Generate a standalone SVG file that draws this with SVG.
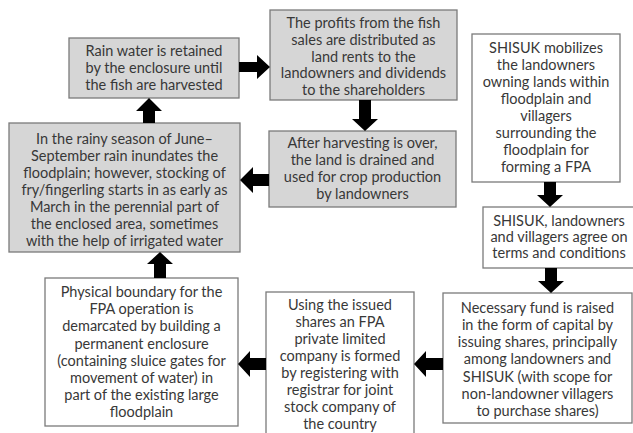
<svg xmlns="http://www.w3.org/2000/svg" width="633" height="433" viewBox="0 0 633 433">
<style>
.box{stroke:#7a7a7a;stroke-width:1.3}
.g{fill:#d6d6d6}
.w{fill:#ffffff}
text{font-family:Lato,"Open Sans","Liberation Sans",sans-serif;font-size:14.5px;fill:#383838;text-anchor:middle}
.arrow{fill:#000000}
</style>
<rect width="633" height="433" fill="#ffffff"/>
<g id="nodeA">
<rect class="box g" x="69" y="38" width="170" height="60"/>
<text x="154" y="56">Rain water is retained</text>
<text x="154" y="73">by the enclosure until</text>
<text x="154" y="90">the fish are harvested</text>
</g>
<g id="nodeB">
<rect class="box g" x="270" y="10" width="187" height="90"/>
<text x="363.5" y="28">The profits from the fish</text>
<text x="363.5" y="44.8">sales are distributed as</text>
<text x="363.5" y="61.6">land rents to the</text>
<text x="363.5" y="78.4">landowners and dividends</text>
<text x="363.5" y="95.2">to the shareholders</text>
</g>
<g id="nodeC">
<rect class="box g" x="269" y="131" width="187" height="76"/>
<text x="362.5" y="148">After harvesting is over,</text>
<text x="362.5" y="165">the land is drained and</text>
<text x="362.5" y="182">used for crop production</text>
<text x="362.5" y="199">by landowners</text>
</g>
<g id="nodeD">
<rect class="box g" x="9" y="123" width="231" height="129"/>
<text x="124.5" y="144">In the rainy season of June–</text>
<text x="124.5" y="161">September rain inundates the</text>
<text x="124.5" y="178">floodplain; however, stocking of</text>
<text x="124.5" y="195">fry/fingerling starts in as early as</text>
<text x="124.5" y="212">March in the perennial part of</text>
<text x="124.5" y="229">the enclosed area, sometimes</text>
<text x="124.5" y="246">with the help of irrigated water</text>
</g>
<g id="nodeE">
<rect class="box w" x="472" y="34" width="148" height="148"/>
<text x="546" y="53">SHISUK mobilizes</text>
<text x="546" y="70">the landowners</text>
<text x="546" y="87">owning lands within</text>
<text x="546" y="103.5">floodplain and</text>
<text x="546" y="121">villagers</text>
<text x="546" y="138">surrounding the</text>
<text x="546" y="155">floodplain for</text>
<text x="546" y="172">forming a FPA</text>
</g>
<g id="nodeF">
<rect class="box w" x="483" y="207" width="160" height="61"/>
<text x="559" y="226">SHISUK, landowners</text>
<text x="559" y="242">and villagers agree on</text>
<text x="559" y="258">terms and conditions</text>
</g>
<g id="nodeG">
<rect class="box w" x="443" y="293" width="189" height="130"/>
<text x="537.5" y="313">Necessary fund is raised</text>
<text x="537.5" y="330">in the form of capital by</text>
<text x="537.5" y="347">issuing shares, principally</text>
<text x="537.5" y="364">among landowners and</text>
<text x="537.5" y="381.5">SHISUK (with scope for</text>
<text x="537.5" y="398.5">non-landowner villagers</text>
<text x="537.5" y="416">to purchase shares)</text>
</g>
<g id="nodeH">
<rect class="box w" x="266" y="292" width="148" height="150"/>
<text x="340" y="310">Using the issued</text>
<text x="340" y="327">shares an FPA</text>
<text x="340" y="344">private limited</text>
<text x="340" y="361">company is formed</text>
<text x="340" y="378">by registering with</text>
<text x="340" y="395">registrar for joint</text>
<text x="340" y="412">stock company of</text>
<text x="340" y="429">the country</text>
</g>
<g id="nodeI">
<rect class="box w" x="45" y="278" width="193" height="148"/>
<text x="141.5" y="297">Physical boundary for the</text>
<text x="141.5" y="314.2">FPA operation is</text>
<text x="141.5" y="331.4">demarcated by building a</text>
<text x="141.5" y="348.6">permanent enclosure</text>
<text x="141.5" y="365.8">(containing sluice gates for</text>
<text x="141.5" y="383">movement of water) in</text>
<text x="141.5" y="400.2">part of the existing large</text>
<text x="141.5" y="417.4">floodplain</text>
</g>
<g id="connectors">
<path class="arrow" d="M239,62 H257 V55 L270,67 L257,79 V72 H239 Z"/>
<path class="arrow" d="M143,123 V111 H136 L149,98 L162,111 H155 V123 Z"/>
<path class="arrow" d="M359,100 V119 H352 L365,131 L378,119 H371 V100 Z"/>
<path class="arrow" d="M269,174 H253 V167 L240,180 L253,193 V186 H269 Z"/>
<path class="arrow" d="M544,182 V195 H537 L550,207 L563,195 H556 V182 Z"/>
<path class="arrow" d="M545,268 V281 H538 L551,293 L564,281 H557 V268 Z"/>
<path class="arrow" d="M443,358 H426 V351 L414,364 L426,377 V370 H443 Z"/>
<path class="arrow" d="M266,358 H250 V351 L238,364 L250,377 V370 H266 Z"/>
<path class="arrow" d="M154,278 V264 H147 L160,252 L173,264 H166 V278 Z"/>
</g>
</svg>
